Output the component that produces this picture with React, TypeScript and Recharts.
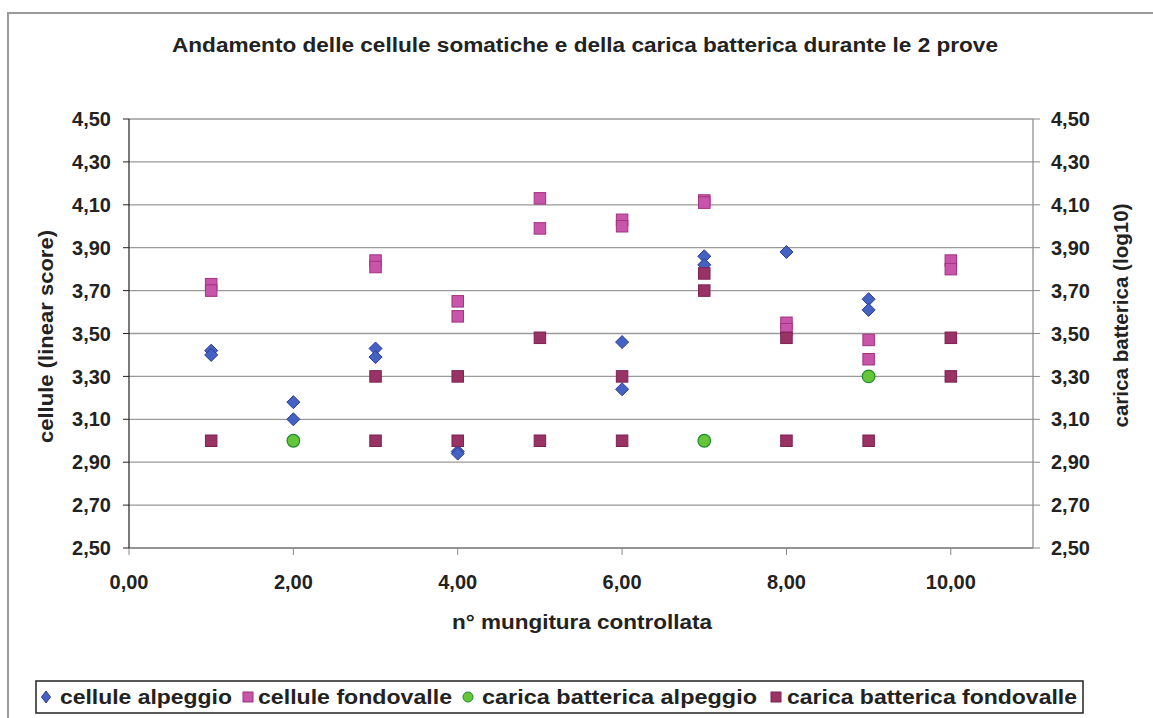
import React from 'react';
import { ScatterChart, Scatter, XAxis, YAxis, CartesianGrid } from 'recharts';

// n° mungitura (x) and values (y) for each series
const celluleAlpeggioX = [1, 1, 2, 2, 3, 3, 4, 4, 6, 6, 7, 7, 8, 9, 9];
const celluleAlpeggioY = [3.42, 3.40, 3.18, 3.10, 3.43, 3.39, 2.95, 2.94, 3.46, 3.24, 3.86, 3.82, 3.88, 3.66, 3.61];

const celluleFondovalleX = [1, 1, 3, 3, 4, 4, 5, 5, 6, 6, 7, 7, 8, 8, 9, 9, 10, 10];
const celluleFondovalleY = [3.73, 3.70, 3.84, 3.81, 3.65, 3.58, 4.13, 3.99, 4.03, 4.00, 4.12, 4.11, 3.55, 3.52, 3.47, 3.38, 3.84, 3.80];

const caricaAlpeggioX = [2, 7, 9];
const caricaAlpeggioY = [3.00, 3.00, 3.30];

const caricaFondovalleX = [1, 3, 3, 4, 4, 5, 5, 6, 6, 7, 7, 8, 8, 9, 10, 10];
const caricaFondovalleY = [3.00, 3.30, 3.00, 3.30, 3.00, 3.48, 3.00, 3.30, 3.00, 3.78, 3.70, 3.48, 3.00, 3.00, 3.48, 3.30];

const xTicks = [0, 2, 4, 6, 8, 10];
const yTicks = [2.5, 2.7, 2.9, 3.1, 3.3, 3.5, 3.7, 3.9, 4.1, 4.3, 4.5];

const title = 'Andamento delle cellule somatiche e della carica batterica durante le 2 prove';
const xTitle = 'n° mungitura controllata';
const yLeftTitle = 'cellule (linear score)';
const yRightTitle = 'carica batterica (log10)';
const seriesNames = ['cellule alpeggio', 'cellule fondovalle', 'carica batterica alpeggio', 'carica batterica fondovalle'];

const toPoints = (xs: number[], ys: number[]) => xs.map((x, i) => ({ x, y: ys[i] }));

const FONT = '"Liberation Sans", Arial, Helvetica, sans-serif';
const fmt = (v: number) => v.toFixed(2).replace('.', ',');

const COLORS = {
  blue: { fill: '#4462c4', stroke: '#2b3a94' },
  pink: { fill: '#c855aa', stroke: '#a2327e' },
  green: { fill: '#66c63a', stroke: '#1d8a2c' },
  plum: { fill: '#993366', stroke: '#7d2152' },
};

const Diamond = (props: any) => {
  const { cx, cy } = props;
  const r = 6.5;
  return (
    <polygon
      points={`${cx},${cy - r} ${cx + r},${cy} ${cx},${cy + r} ${cx - r},${cy}`}
      fill={COLORS.blue.fill}
      stroke={COLORS.blue.stroke}
      strokeWidth={1}
    />
  );
};
const makeSquare = (c: { fill: string; stroke: string }) => (props: any) => {
  const { cx, cy } = props;
  const s = 11.5;
  return <rect x={cx - s / 2} y={cy - s / 2} width={s} height={s} fill={c.fill} stroke={c.stroke} strokeWidth={1} />;
};
const PinkSquare = makeSquare(COLORS.pink);
const PlumSquare = makeSquare(COLORS.plum);
const GreenCircle = (props: any) => {
  const { cx, cy } = props;
  return <circle cx={cx} cy={cy} r={6.3} fill={COLORS.green.fill} stroke={COLORS.green.stroke} strokeWidth={1.2} />;
};

const tickStyle = { fontFamily: FONT, fontSize: 20, fontWeight: 700, fill: '#222' };

// legend layout: [icon center x, text start x, text length]
const legendLayout = [
  [46, 60, 172],
  [248, 258, 194],
  [468, 482, 275],
  [776, 787, 290],
];

const LegendIcon = ({ kind, cx, cy }: { kind: number; cx: number; cy: number }) => {
  if (kind === 0)
    return <polygon points={`${cx},${cy - 6} ${cx + 4.5},${cy} ${cx},${cy + 6} ${cx - 4.5},${cy}`} fill={COLORS.blue.fill} stroke={COLORS.blue.stroke} />;
  if (kind === 1) return <rect x={cx - 5} y={cy - 5} width={10} height={10} fill={COLORS.pink.fill} stroke={COLORS.pink.stroke} />;
  if (kind === 2) return <circle cx={cx} cy={cy} r={5} fill={COLORS.green.fill} stroke={COLORS.green.stroke} />;
  return <rect x={cx - 5} y={cy - 5} width={10} height={10} fill={COLORS.plum.fill} stroke={COLORS.plum.stroke} />;
};

export default function App() {
  return (
    <div style={{ position: 'absolute', left: 0, top: 0, width: 1153, height: 718, background: '#fff', overflow: 'hidden', fontFamily: FONT }}>
      <div style={{ position: 'absolute', left: 7, top: 12, width: 1160, height: 730, borderLeft: '2px solid #9a9a9a', borderTop: '2px solid #9a9a9a' }} />
      <svg style={{ position: 'absolute', left: 0, top: 0 }} width={1153} height={70}>
        <text x={172} y={52} textLength={826} lengthAdjust="spacingAndGlyphs" style={{ ...tickStyle, fontSize: 20 }}>
          {title}
        </text>
      </svg>
      <div style={{ position: 'absolute', left: 0, top: 0 }}>
        <ScatterChart width={1153} height={718} margin={{ top: 119, right: 0, bottom: 100, left: 0 }}>
          <CartesianGrid vertical={false} stroke="#9a9a9a" strokeWidth={1.3} yAxisId="left" />
          <XAxis
            type="number"
            dataKey="x"
            domain={[0, 11]}
            ticks={xTicks}
            interval={0}
            tickFormatter={fmt}
            tick={tickStyle}
            tickSize={7}
            tickMargin={20}
            height={70}
            axisLine={{ stroke: '#888', strokeWidth: 1.5 }}
            tickLine={{ stroke: '#888' }}
            allowDataOverflow
            label={{
              content: (p: any) => {
                const vb = p.viewBox || {};
                return (
                  <text x={452} y={vb.y + 81} textLength={260} lengthAdjust="spacingAndGlyphs" style={tickStyle}>
                    {xTitle}
                  </text>
                );
              },
            }}
          />
          <YAxis
            yAxisId="left"
            type="number"
            dataKey="y"
            domain={[2.5, 4.5]}
            ticks={yTicks}
            interval={0}
            tickFormatter={fmt}
            tick={tickStyle}
            tickSize={6}
            tickMargin={12}
            width={129}
            axisLine={{ stroke: '#222', strokeWidth: 1.2 }}
            tickLine={{ stroke: '#222' }}
            allowDataOverflow
            label={{
              content: (p: any) => {
                const vb = p.viewBox || {};
                const cx = 46;
                const cy = vb.y + vb.height / 2 + 3;
                return (
                  <text
                    x={cx - 106.5}
                    y={cy}
                    dominantBaseline="central"
                    textLength={213}
                    lengthAdjust="spacingAndGlyphs"
                    transform={`rotate(-90 ${cx} ${cy})`}
                    style={tickStyle}
                  >
                    {yLeftTitle}
                  </text>
                );
              },
            }}
          />
          <YAxis
            yAxisId="right"
            orientation="right"
            type="number"
            dataKey="y"
            domain={[2.5, 4.5]}
            ticks={yTicks}
            interval={0}
            tickFormatter={fmt}
            tick={tickStyle}
            tickSize={7}
            tickMargin={11}
            width={120}
            axisLine={{ stroke: '#888', strokeWidth: 1.2 }}
            tickLine={{ stroke: '#888' }}
            allowDataOverflow
            label={{
              content: (p: any) => {
                const vb = p.viewBox || {};
                const cx = 1121;
                const cy = vb.y + vb.height / 2 - 18;
                return (
                  <text
                    x={cx - 112}
                    y={cy}
                    dominantBaseline="central"
                    textLength={224}
                    lengthAdjust="spacingAndGlyphs"
                    transform={`rotate(-90 ${cx} ${cy})`}
                    style={tickStyle}
                  >
                    {yRightTitle}
                  </text>
                );
              },
            }}
          />
          <Scatter name={seriesNames[0]} yAxisId="left" data={toPoints(celluleAlpeggioX, celluleAlpeggioY)} shape={Diamond} isAnimationActive={false} />
          <Scatter name={seriesNames[1]} yAxisId="left" data={toPoints(celluleFondovalleX, celluleFondovalleY)} shape={PinkSquare} isAnimationActive={false} />
          <Scatter name={seriesNames[2]} yAxisId="right" data={toPoints(caricaAlpeggioX, caricaAlpeggioY)} shape={GreenCircle} isAnimationActive={false} />
          <Scatter name={seriesNames[3]} yAxisId="right" data={toPoints(caricaFondovalleX, caricaFondovalleY)} shape={PlumSquare} isAnimationActive={false} />
        </ScatterChart>
      </div>
      <svg style={{ position: 'absolute', left: 0, top: 0, pointerEvents: 'none' }} width={1153} height={718}>
        <rect x={36} y={681} width={1047} height={32} fill="#fff" stroke="#222" strokeWidth={1.5} />
        {seriesNames.map((n, i) => {
          const [ix, tx, tl] = legendLayout[i];
          return (
            <g key={n}>
              <LegendIcon kind={i} cx={ix} cy={697} />
              <text x={tx} y={704} textLength={tl} lengthAdjust="spacingAndGlyphs" style={{ ...tickStyle, fontSize: 21 }}>
                {n}
              </text>
            </g>
          );
        })}
      </svg>
    </div>
  );
}
